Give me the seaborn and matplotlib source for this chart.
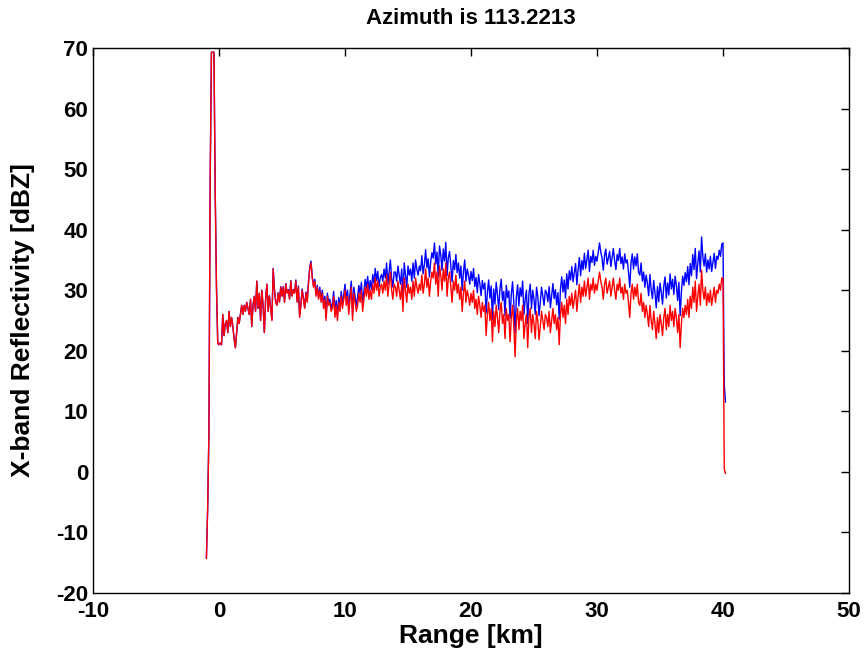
import numpy as np
import pandas as pd
import matplotlib
matplotlib.use("Agg")
import matplotlib.pyplot as plt
import seaborn as sns

title_text = "Azimuth is 113.2213"
x_label = "Range [km]"
y_label = "X-band Reflectivity [dBZ]"
x_ticks = [-10, 0, 10, 20, 30, 40, 50]
y_ticks = [-20, -10, 0, 10, 20, 30, 40, 50, 60, 70]

gate_start_km = -1.0
gate_spacing_km = 0.1

# red series (measured reflectivity), gates from -1.0 km every 0.1 km
red_prefix = [-14.3, -6.0, 6.4, 48.2, 69.3, 69.3, 69.3, 46.0, 30.5, 21.2]
red_body = [
    21.0, 21.3, 21.0, 26.0, 22.5, 24.5, 25.0, 23.0, 26.5, 24.0,
    25.5, 24.0, 22.0, 20.5, 23.0, 25.5, 24.5, 26.0, 27.5, 26.0,
    27.5, 26.5, 28.0, 27.0, 26.0, 28.5, 24.0, 27.5, 29.0, 26.5,
    31.5, 27.0, 29.5, 25.0, 30.0, 27.5, 23.0, 28.5, 31.0, 26.5,
    29.0, 27.0, 25.0, 33.5, 30.0, 28.0, 27.5, 29.5, 28.0, 30.5,
    29.0, 30.5, 28.0, 31.0, 29.5, 30.0, 28.5, 31.5, 29.0, 30.0,
    29.5, 31.5, 28.0, 30.5, 25.5, 27.5, 30.0, 28.5, 27.0, 29.5,
    28.0, 31.0, 33.5, 34.5, 32.0, 30.5, 31.5, 29.0, 30.5, 28.5,
    30.0, 28.0, 29.5, 27.0, 28.5, 25.0, 29.0, 27.5, 28.0, 26.5,
    27.0, 29.0, 25.5, 27.5, 25.0, 28.0, 26.5, 29.0, 27.0, 28.5,
    30.0, 27.5, 29.0, 26.0, 28.5, 30.5, 25.0, 29.5, 28.0, 26.5,
    27.5, 29.5, 28.0, 30.0, 26.5, 28.5, 30.5, 29.0, 31.0, 28.5,
    30.0, 28.5, 31.0, 29.5, 32.0, 30.0, 31.5, 29.0, 30.5, 31.0,
    29.5, 31.5, 30.0, 32.5, 29.0, 31.0, 33.0, 30.0, 28.5, 31.0,
    30.5, 29.0, 31.5, 30.0, 28.5, 31.0, 26.5, 32.0, 30.0, 28.0,
    31.0, 29.5, 30.5, 28.5, 31.5, 29.0, 32.0, 30.5, 29.5, 31.0,
    30.0, 32.5, 29.5, 31.0, 33.5, 30.5, 32.0, 29.0, 31.5, 33.0,
    32.0, 34.5, 31.0, 33.0, 29.0, 34.0, 32.5, 30.0, 33.5, 31.5,
    34.5, 29.0, 32.0, 33.0, 30.5, 28.0, 31.5, 30.0, 32.5, 29.5,
    31.0, 28.5, 30.5, 26.5, 29.5, 31.5, 28.0, 30.0, 29.0, 27.5,
    29.5, 28.0, 30.0, 27.0, 28.5, 26.0, 29.0, 27.5, 25.5, 28.0,
    26.5, 27.5, 22.5, 26.0, 28.0, 25.0, 27.0, 21.5, 26.5, 24.0,
    27.5, 25.5, 23.0, 26.5, 28.0, 24.5, 26.0, 22.0, 27.0, 25.0,
    26.0, 21.5, 25.5, 27.5, 24.0, 19.0, 25.0, 27.0, 23.5, 26.5,
    25.0, 27.5, 22.0, 24.5, 26.0, 20.5, 25.5, 27.0, 23.0, 26.0,
    24.5, 22.0, 26.5, 25.0, 21.8, 24.0, 26.5, 25.0, 23.5, 26.0,
    25.5, 24.0, 26.5, 23.0, 25.0, 27.0, 24.5, 26.0, 23.5, 25.5,
    21.0, 26.0, 28.0, 25.5, 27.5, 24.5, 28.5, 26.0, 29.0, 27.5,
    29.5, 27.0, 28.5, 30.0, 26.5, 29.0, 31.0, 28.0, 30.5, 29.0,
    31.5, 29.0, 30.5, 32.0, 28.5, 31.0, 30.0, 32.0, 29.5, 31.0,
    30.0, 31.5, 33.0, 31.5, 30.5, 28.5, 31.0, 32.0, 29.5, 30.5,
    31.5, 29.0, 30.5, 32.0, 30.0, 28.5, 31.0, 30.0, 32.0, 29.5,
    30.5, 28.5, 31.0, 29.5, 30.0, 28.0, 25.5, 29.5, 31.0, 28.5,
    30.5, 29.0, 31.0, 28.0, 27.5, 29.5, 26.5, 28.0, 25.5, 27.5,
    26.0, 24.0, 27.5, 25.0, 23.5, 26.5, 24.5, 22.0, 25.5, 23.0,
    26.0, 24.5, 22.5, 25.5, 27.0, 23.5, 26.0, 24.0, 27.5, 25.0,
    26.5, 24.0, 27.0, 25.5, 23.0, 26.0, 20.5, 24.5, 27.0, 25.5,
    27.5, 26.0, 28.5, 25.5, 29.0, 27.0, 30.5, 28.0, 31.5, 26.5,
    29.0, 31.0, 27.5, 33.3, 30.0, 28.5, 30.5, 27.5, 29.5, 28.0,
    30.0, 27.5, 29.0, 30.5, 28.0, 30.0, 29.5, 31.0, 30.0, 32.0,
]
red_tail = [32.0, 0.5, -0.3]

# blue series (corrected reflectivity)
blue_prefix = [-14.3, -6.0, 6.4, 48.2, 69.3, 69.3, 69.3, 46.0, 30.5, 21.2]
blue_body = [
    21.0, 21.3, 21.0, 26.0, 22.5, 24.5, 25.0, 23.0, 26.5, 24.0,
    25.5, 24.0, 22.0, 20.5, 23.0, 25.5, 24.5, 26.0, 27.5, 26.0,
    27.5, 26.5, 28.0, 27.0, 26.0, 28.5, 24.0, 27.5, 29.0, 26.5,
    31.5, 27.0, 29.5, 25.0, 30.0, 27.5, 23.0, 28.5, 31.0, 26.5,
    29.1, 27.1, 25.1, 33.6, 30.1, 28.1, 27.6, 29.6, 28.1, 30.6,
    29.1, 30.6, 28.1, 31.1, 29.6, 30.1, 28.6, 31.6, 29.1, 30.1,
    29.7, 31.7, 28.2, 30.7, 25.7, 27.7, 30.2, 28.7, 27.2, 29.7,
    28.3, 31.3, 33.8, 34.8, 32.3, 30.8, 31.8, 29.3, 30.8, 28.8,
    30.5, 28.5, 30.0, 27.5, 29.0, 25.5, 29.5, 28.0, 28.5, 27.0,
    27.8, 29.8, 26.3, 28.3, 25.8, 28.8, 27.3, 29.8, 27.8, 29.3,
    31.0, 28.5, 30.0, 27.0, 29.5, 31.5, 26.0, 30.5, 29.0, 27.5,
    28.8, 30.8, 29.3, 31.3, 27.8, 29.8, 31.8, 30.3, 32.3, 29.8,
    31.6, 30.1, 32.6, 31.1, 33.6, 31.6, 33.1, 30.6, 32.1, 32.6,
    31.5, 33.5, 32.0, 34.5, 31.0, 33.0, 35.0, 32.0, 30.5, 33.0,
    33.0, 31.5, 34.0, 32.5, 31.0, 33.5, 29.0, 34.5, 32.5, 30.5,
    34.0, 32.5, 33.5, 31.5, 34.5, 32.0, 35.0, 33.5, 32.5, 34.0,
    33.2, 35.7, 32.7, 34.2, 36.7, 33.7, 35.2, 32.2, 34.7, 36.2,
    35.3, 37.8, 34.3, 36.3, 32.3, 37.3, 35.8, 33.3, 36.8, 34.8,
    37.9, 32.4, 35.4, 36.4, 33.9, 31.4, 34.9, 33.4, 35.9, 32.9,
    34.5, 32.0, 34.0, 30.0, 33.0, 35.0, 31.5, 33.5, 32.5, 31.0,
    33.1, 31.6, 33.6, 30.6, 32.1, 29.6, 32.6, 31.1, 29.1, 31.6,
    30.2, 31.2, 26.2, 29.7, 31.7, 28.7, 30.7, 25.2, 30.2, 27.7,
    31.3, 29.3, 26.8, 30.3, 31.8, 28.3, 29.8, 25.8, 30.8, 28.8,
    29.9, 25.4, 29.4, 31.4, 27.9, 22.9, 28.9, 30.9, 27.4, 30.4,
    29.0, 31.5, 26.0, 28.5, 30.0, 24.5, 29.5, 31.0, 27.0, 30.0,
    28.5, 26.0, 30.5, 29.0, 25.8, 28.0, 30.5, 29.0, 27.5, 30.0,
    29.6, 28.1, 30.6, 27.1, 29.1, 31.1, 28.6, 30.1, 27.6, 29.6,
    25.2, 30.2, 32.2, 29.7, 31.7, 28.7, 32.7, 30.2, 33.2, 31.7,
    33.9, 31.4, 32.9, 34.4, 30.9, 33.4, 35.4, 32.4, 34.9, 33.4,
    36.1, 33.6, 35.1, 36.6, 33.1, 35.6, 34.6, 36.6, 34.1, 35.6,
    34.8, 36.3, 37.8, 36.3, 35.3, 33.3, 35.8, 36.8, 34.3, 35.3,
    36.4, 33.9, 35.4, 36.9, 34.9, 33.4, 35.9, 34.9, 36.9, 34.4,
    35.5, 33.5, 36.0, 34.5, 35.0, 33.0, 30.5, 34.5, 36.0, 33.5,
    35.5, 34.0, 36.0, 33.0, 32.5, 34.5, 31.5, 33.0, 30.5, 32.5,
    31.1, 29.1, 32.6, 30.1, 28.6, 31.6, 29.6, 27.1, 30.6, 28.1,
    31.2, 29.7, 27.7, 30.7, 32.2, 28.7, 31.2, 29.2, 32.7, 30.2,
    31.8, 29.3, 32.3, 30.8, 28.3, 31.3, 25.8, 29.8, 32.3, 30.8,
    32.9, 31.4, 33.9, 30.9, 34.4, 32.4, 35.9, 33.4, 36.9, 31.9,
    34.5, 36.5, 33.0, 38.8, 35.5, 34.0, 36.0, 33.0, 35.0, 33.5,
    35.6, 33.1, 34.6, 36.1, 33.6, 35.6, 35.1, 36.6, 35.6, 37.6,
]
blue_tail = [37.8, 14.5, 11.5]

red = red_prefix + red_body + red_tail
blue = blue_prefix + blue_body + blue_tail
range_km = gate_start_km + gate_spacing_km * np.arange(len(red))

df = pd.DataFrame({"range": range_km, "blue": blue, "red": red})

sns.set_style("white")
plt.rcParams["font.family"] = ["Liberation Sans", "DejaVu Sans"]
plt.rcParams["font.weight"] = "bold"
plt.rcParams["text.color"] = "black"
plt.rcParams["axes.labelcolor"] = "black"

fig = plt.figure(figsize=(8.64, 6.56), dpi=100)
ax = fig.add_axes([93 / 864, 1 - 593 / 656, (849 - 93) / 864, (593 - 48) / 656])

sns.lineplot(data=df, x="range", y="blue", ax=ax, color=(0, 0, 1),
             linewidth=1.0, estimator=None, sort=False)
sns.lineplot(data=df, x="range", y="red", ax=ax, color=(1, 0, 0),
             linewidth=1.0, estimator=None, sort=False)

ax.set_xlim(-10, 50)
ax.set_ylim(-20, 70)
ax.set_xticks(x_ticks)
ax.set_yticks(y_ticks)
ax.set_xticklabels([str(v) for v in x_ticks], fontsize=16, fontweight="bold")
ax.set_yticklabels([str(v) for v in y_ticks], fontsize=16, fontweight="bold")
ax.tick_params(direction="in", top=True, right=True, length=6, width=1,
               colors="black")
ax.tick_params(axis="x", pad=5.5)
ax.tick_params(axis="y", pad=3.5)
for s in ax.spines.values():
    s.set_visible(True)
    s.set_color("black")
    s.set_linewidth(1.0)
ax.set_xlabel(x_label, fontsize=19, fontweight="bold", labelpad=2, color="black")
ax.set_ylabel(y_label, fontsize=19, fontweight="bold", color="black")
ax.yaxis.set_label_coords(-0.077, 0.5)
ax.set_title(title_text, fontsize=16, fontweight="bold", pad=17, color="black")
ax.grid(False)

fig.savefig("out.png", dpi=100)
